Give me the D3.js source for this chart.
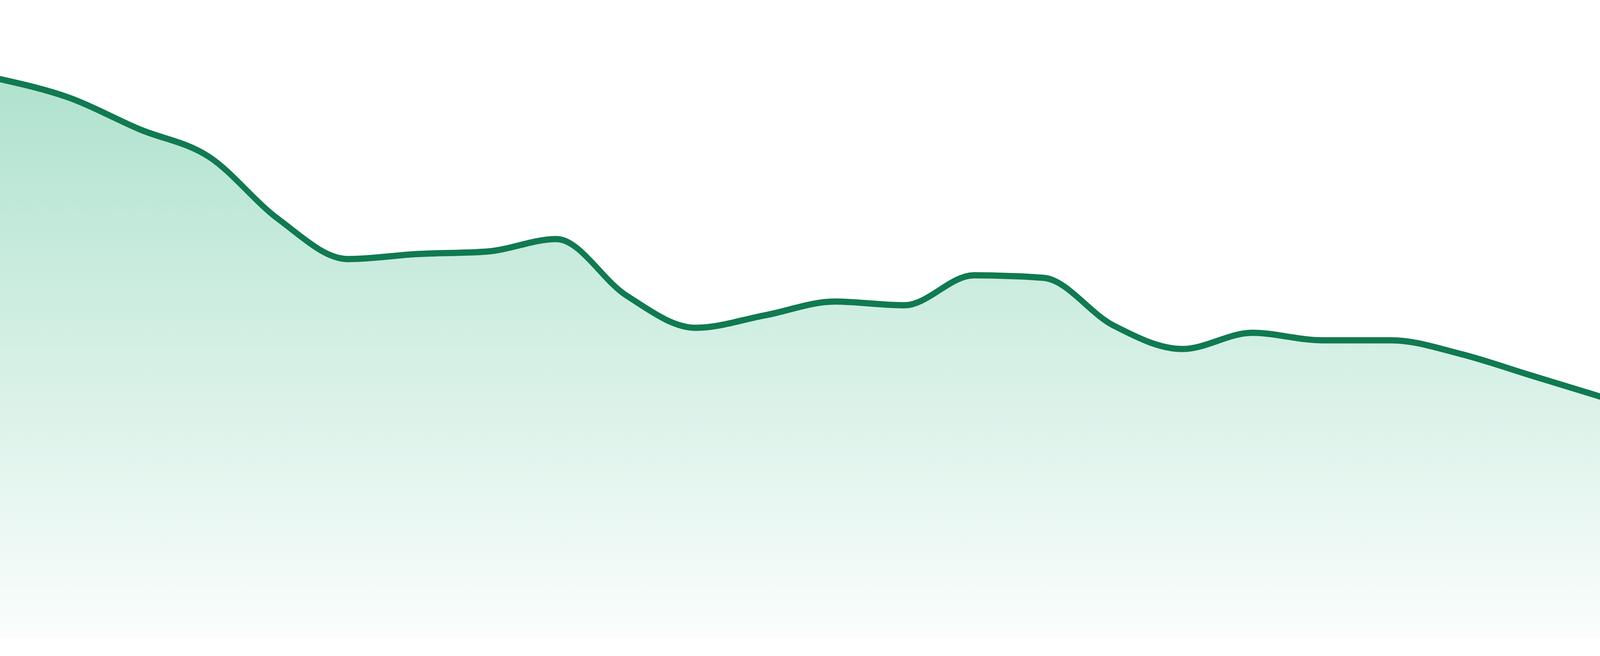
<!DOCTYPE html>
<html>
<head>
<meta charset="utf-8">
<script src="https://cdn.jsdelivr.net/npm/d3@7"></script>
<style>
  html, body { margin: 0; padding: 0; width: 100%; height: 100%; overflow: hidden; background: #ffffff; }
  #chart { width: 100vw; height: 100vh; }
  svg { display: block; width: 100vw; height: 100vh; }
</style>
</head>
<body>
<div id="chart"></div>
<script>
const categories = ["00:00","01:00","02:00","03:00","04:00","05:00","06:00","07:00","08:00","09:00","10:00","11:00",
                    "12:00","13:00","14:00","15:00","16:00","17:00","18:00","19:00","20:00","21:00","22:00","23:00"];
const values = [44.7, 43.2, 40.7, 38.5, 33.5, 30.3, 30.7, 30.9, 31.9, 27.4, 24.8, 25.8,
                26.9, 26.6, 29.0, 28.8, 25.0, 23.1, 24.4, 23.8, 23.8, 22.7, 21.0, 19.3];
const yDomain = [0, 50];

const W = 4800, H = 1680;
const data = categories.map((c, i) => ({ c, v: values[i] }));

const x = d3.scalePoint().domain(categories).range([0, W]);
const y = d3.scaleLinear().domain(yDomain).range([1633, 33]);

const svg = d3.select("#chart").append("svg")
  .attr("viewBox", `0 0 ${W} ${H}`)
  .attr("preserveAspectRatio", "none");

const defs = svg.append("defs");
const grad = defs.append("linearGradient")
  .attr("id", "areaGrad")
  .attr("x1", 0).attr("y1", 0).attr("x2", 0).attr("y2", 1);
grad.append("stop").attr("offset", "0%").attr("stop-color", "#0fa86b").attr("stop-opacity", 0.33);
grad.append("stop").attr("offset", "100%").attr("stop-color", "#0fa86b").attr("stop-opacity", 0.02);

const area = d3.area()
  .x(d => x(d.c))
  .y0(y(0))
  .y1(d => y(d.v))
  .curve(d3.curveMonotoneX);

const line = d3.line()
  .x(d => x(d.c))
  .y(d => y(d.v))
  .curve(d3.curveMonotoneX);

svg.append("path")
  .datum(data)
  .attr("d", area)
  .attr("fill", "url(#areaGrad)");

svg.append("path")
  .datum(data)
  .attr("d", line)
  .attr("fill", "none")
  .attr("stroke", "#107a50")
  .attr("stroke-width", 16)
  .attr("stroke-linejoin", "round")
  .attr("stroke-linecap", "round");
</script>
</body>
</html>
